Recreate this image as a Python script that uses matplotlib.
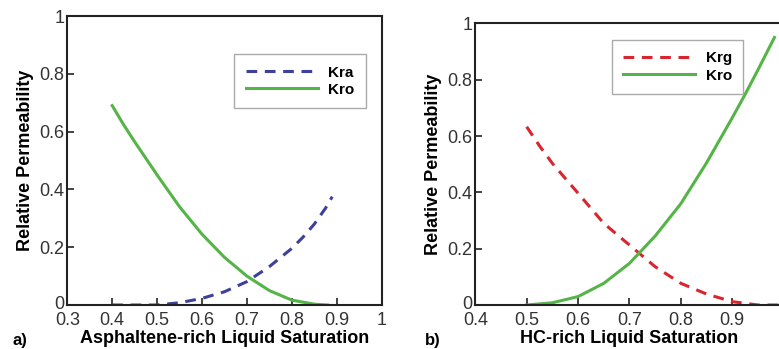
import numpy as np
import matplotlib.pyplot as plt
import matplotlib.transforms as mtransforms

plt.rcParams['font.family'] = ['Liberation Sans', 'DejaVu Sans']

# panel a) asphaltene-rich liquid
sat_a = [0.40, 0.45, 0.50, 0.55, 0.60, 0.65, 0.70, 0.75, 0.80, 0.825, 0.85, 0.875, 0.89]
kra_a = [0.0, 0.0, 0.0, 0.008, 0.023, 0.046, 0.081, 0.133, 0.196, 0.235, 0.28, 0.335, 0.375]
sat_ao = [0.40, 0.425, 0.45, 0.50, 0.55, 0.60, 0.65, 0.70, 0.75, 0.80, 0.85, 0.88]
kro_a = [0.69, 0.625, 0.565, 0.45, 0.34, 0.245, 0.165, 0.10, 0.05, 0.017, 0.003, 0.0]

# panel b) HC-rich liquid
sat_b = [0.50, 0.525, 0.55, 0.60, 0.65, 0.70, 0.75, 0.80, 0.85, 0.90, 0.95, 1.0]
krg_b = [0.633, 0.565, 0.503, 0.397, 0.29, 0.213, 0.136, 0.077, 0.039, 0.012, 0.0, 0.0]
sat_bo = [0.50, 0.55, 0.60, 0.65, 0.70, 0.75, 0.80, 0.85, 0.875, 0.90, 0.925, 0.95, 0.982]
kro_b = [0.0, 0.008, 0.03, 0.077, 0.148, 0.245, 0.36, 0.505, 0.585, 0.665, 0.748, 0.835, 0.95]

xticks_a = [0.3, 0.4, 0.5, 0.6, 0.7, 0.8, 0.9, 1.0]
xticks_b = [0.4, 0.5, 0.6, 0.7, 0.8, 0.9]
yticks = [0, 0.2, 0.4, 0.6, 0.8, 1.0]

blue = '#3d4199'
green = '#55b447'
red = '#d8262f'

fig = plt.figure(figsize=(7.79, 3.49), dpi=100)
ax1 = fig.add_axes([0.0864, 0.126, 0.4035, 0.828])
ax2 = fig.add_axes([0.6101, 0.126, 0.3959, 0.807])


def fmt(v):
    return '%g' % v


def style(ax, xt, xlim, xlabel):
    ax.set_xlim(*xlim)
    ax.set_ylim(0, 1)
    ax.set_xticks(xt)
    ax.set_xticklabels([fmt(v) for v in xt])
    ax.set_yticks(yticks)
    ax.set_yticklabels([fmt(v) for v in yticks])
    ax.tick_params(direction='in', length=5, width=1.2, labelsize=13, color='#222222',
                   labelcolor='#333333')
    ax.tick_params(axis='x', pad=5)
    ax.tick_params(axis='y', pad=2)
    for s in ax.spines.values():
        s.set_linewidth(1.5)
        s.set_color('#222222')
    ax.set_xlabel(xlabel, fontsize=13, fontweight='bold', labelpad=1)
    ax.set_ylabel('Relative Permeability', fontsize=13, fontweight='bold', labelpad=4)
    # lift the "0" y label a little so it sits above the first x label
    lbl = ax.get_yticklabels()[0]
    lbl.set_transform(lbl.get_transform() +
                      mtransforms.ScaledTranslation(0, 2 / 72, fig.dpi_scale_trans))


def add_legend(ax, anchor):
    ax.legend(loc='upper left', bbox_to_anchor=anchor,
              prop={'weight': 'bold', 'size': 11}, fancybox=False, framealpha=1,
              edgecolor='#aaaaaa', handlelength=4.7, handletextpad=0.7,
              borderpad=0.75, labelspacing=0.2)


ax1.plot(sat_a, kra_a, '--', color=blue, lw=2.2, dashes=(3.5, 2.5), label='Kra')
ax1.plot(sat_ao, kro_a, '-', color=green, lw=2.2, label='Kro')
style(ax1, xticks_a, (0.3, 1.0), 'Asphaltene-rich Liquid Saturation')
add_legend(ax1, (0.507, 0.894))

ax2.plot(sat_b, krg_b, '--', color=red, lw=2.2, dashes=(3.5, 2.5), label='Krg')
ax2.plot(sat_bo, kro_b, '-', color=green, lw=2.2, label='Kro')
style(ax2, xticks_b, (0.4, 1.0), 'HC-rich Liquid Saturation')
add_legend(ax2, (0.418, 0.968))

fig.text(0.016, 0.012, 'a)', fontsize=12, fontweight='bold')
fig.text(0.545, 0.012, 'b)', fontsize=12, fontweight='bold')

fig.savefig('out.png', dpi=100)
